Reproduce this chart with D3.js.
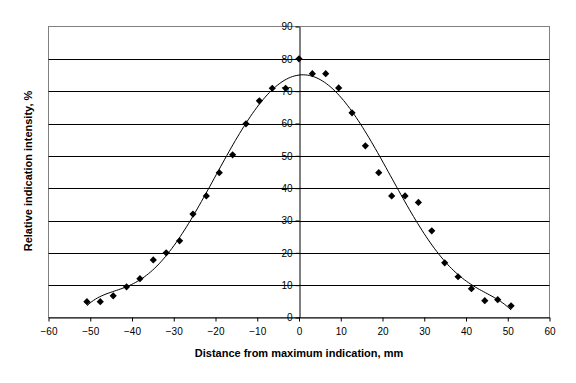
<!DOCTYPE html>
<html><head><meta charset="utf-8">
<script src="https://cdn.jsdelivr.net/npm/d3@7"></script>
<style>body{margin:0;background:#fff;} svg{display:block;}</style>
</head><body>
<svg id="c" width="576" height="383"></svg>
<script>
const xValues = [-50.8,-47.6,-44.5,-41.3,-38.1,-34.9,-31.8,-28.6,-25.4,-22.2,-19.1,-15.9,-12.7,-9.5,-6.4,-3.2,0,3.2,6.4,9.5,12.7,15.9,19.1,22.2,25.4,28.6,31.8,34.9,38.1,41.3,44.5,47.6,50.8];
const yValues = [4.9,4.9,6.7,9.5,12.0,17.8,20.0,23.7,32.0,37.6,44.8,50.3,59.9,67.0,70.9,70.9,80.0,75.4,75.4,71.0,63.3,53.1,44.8,37.6,37.6,35.6,26.8,16.9,12.6,8.9,5.2,5.5,3.6];
const xTicks = [-60,-50,-40,-30,-20,-10,0,10,20,30,40,50,60];
const yTicks = [0,10,20,30,40,50,60,70,80,90];
const xTitle = "Distance from maximum indication, mm";
const yTitle = "Relative indication intensity, %";

const svg = d3.select("#c");
const L=48.5, R=549.5, T=26.5, B=317.5;
const x = d3.scaleLinear().domain([-60,60]).range([L,R]);
const y = d3.scaleLinear().domain([0,90]).range([B,T]);
const font = "Arial, 'Liberation Sans', sans-serif";

// plot border (gray)
svg.append("rect").attr("x",L).attr("y",T).attr("width",R-L).attr("height",B-T)
  .attr("fill","none").attr("stroke","#808080").attr("stroke-width",1);

// gridlines
svg.append("g").selectAll("line").data(yTicks.filter(v=>v>0&&v<90)).join("line")
  .attr("x1",L).attr("x2",R).attr("y1",d=>Math.round(y(d))+0.5).attr("y2",d=>Math.round(y(d))+0.5)
  .attr("stroke","#000").attr("stroke-width",1);

// x axis
const xAxis = d3.axisBottom(x).tickValues(xTicks).tickSize(4).tickSizeOuter(0).tickPadding(6);
const gx = svg.append("g").attr("transform",`translate(0,${B})`).call(xAxis);
gx.select(".domain").attr("stroke","#000");
gx.selectAll("text").attr("font-family",font).attr("font-size","10px").attr("fill","#000");

// y axis at x=0
const yAxis = d3.axisLeft(y).tickValues(yTicks).tickSize(4).tickSizeOuter(0).tickPadding(3);
const gy = svg.append("g").attr("transform",`translate(${Math.round(x(0))+0.5},0)`).call(yAxis);
gy.select(".domain").attr("stroke","#000");
gy.selectAll("text").attr("font-family",font).attr("font-size","10px").attr("fill","#000");

// polynomial trendline (order 6, least squares)
function polyfit(xs, ys, deg){
  const s = 50;
  const n = deg+1;
  const A = Array.from({length:n},()=>new Array(n+1).fill(0));
  xs.forEach((xv,i)=>{
    const t = xv/s;
    const pw = []; for(let k=0;k<2*n;k++) pw.push(Math.pow(t,k));
    for(let r=0;r<n;r++){ for(let c=0;c<n;c++) A[r][c]+=pw[r+c]; A[r][n]+=ys[i]*pw[r]; }
  });
  for(let i=0;i<n;i++){
    let m=i; for(let r=i+1;r<n;r++) if(Math.abs(A[r][i])>Math.abs(A[m][i])) m=r;
    [A[i],A[m]]=[A[m],A[i]];
    for(let r=0;r<n;r++){ if(r===i) continue; const f=A[r][i]/A[i][i]; for(let c=i;c<=n;c++) A[r][c]-=f*A[i][c]; }
  }
  const coef = A.map((row,i)=>row[n]/row[i]);
  return xv=>{ const t=xv/s; let v=0; for(let k=n-1;k>=0;k--) v=v*t+coef[k]; return v; };
}
const f = polyfit(xValues,yValues,6);
const x0 = d3.min(xValues), x1 = d3.max(xValues);
const curvePts = d3.range(0,201).map(i=>x0+(x1-x0)*i/200);
svg.append("path").datum(curvePts)
  .attr("d",d3.line().x(d=>x(d)).y(d=>y(f(d))))
  .attr("fill","none").attr("stroke","#000").attr("stroke-width",1);

// markers
const r=3.6;
svg.append("g").selectAll("path").data(xValues.map((v,i)=>[v,yValues[i]])).join("path")
  .attr("transform",d=>`translate(${x(d[0])},${y(d[1])})`)
  .attr("d",`M0,${-r}L${r},0L0,${r}L${-r},0Z`).attr("fill","#000");

// titles
svg.append("text").attr("x",(L+R)/2).attr("y",357).attr("text-anchor","middle")
  .attr("font-family",font).attr("font-size","11px").attr("font-weight","bold").text(xTitle);
svg.append("text").attr("transform",`translate(32,171) rotate(-90)`).attr("text-anchor","middle")
  .attr("font-family",font).attr("font-size","11px").attr("font-weight","bold").text(yTitle);
</script>
</body></html>
